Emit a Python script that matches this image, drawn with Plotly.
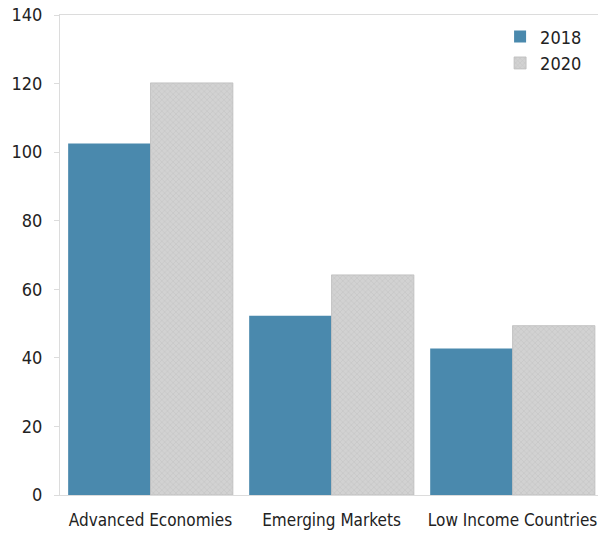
import plotly.graph_objects as go

categories = ["Advanced Economies", "Emerging Markets", "Low Income Countries"]
values_2018 = [102.5, 52.3, 42.7]
values_2020 = [120.2, 64.2, 49.4]
y_ticks = [0, 20, 40, 60, 80, 100, 120, 140]

font_family = "DejaVu Sans Condensed, Liberation Sans Narrow, Liberation Sans, sans-serif"

fig = go.Figure()
fig.add_trace(go.Bar(
    name="2018", x=categories, y=values_2018,
    marker=dict(color="#4a89ad", line=dict(width=0)),
))
fig.add_trace(go.Bar(
    name="2020", x=categories, y=values_2020,
    marker=dict(color="#c9c9c9", line=dict(color="#bdbdbd", width=0.8),
                pattern=dict(shape="x", fgcolor="#b5b5b5", bgcolor="#d2d2d2",
                             size=4, solidity=0.3)),
))

fig.update_layout(
    width=599, height=540,
    margin=dict(l=60, r=1, t=15, b=45, autoexpand=False),
    barmode="group", bargap=0.09, bargroupgap=0,
    plot_bgcolor="white", paper_bgcolor="white",
    font=dict(family=font_family, size=18, color="#222222"),
    showlegend=True,
    legend=dict(x=0.818, y=0.993, xanchor="left", yanchor="top",
                font=dict(size=18), bgcolor="rgba(0,0,0,0)",
                itemwidth=30, tracegroupgap=0),
    xaxis=dict(showline=True, linecolor="#dcdcdc", linewidth=1, mirror=True,
               range=[-0.5, 2.472],
               ticks="", tickfont=dict(size=17), showgrid=False, automargin=False,
               ticklabelstandoff=10),
    yaxis=dict(range=[0, 140], tickvals=y_ticks, showline=True,
               linecolor="#dcdcdc", linewidth=1, ticks="outside",
               tickcolor="#dcdcdc", ticklen=5, showgrid=False, zeroline=False,
               tickfont=dict(size=18), automargin=False, ticklabelstandoff=8),
)

fig.write_html("out.html", config={"displayModeBar": False},
               post_script="document.body.style.margin='0';document.body.style.padding='0';")
